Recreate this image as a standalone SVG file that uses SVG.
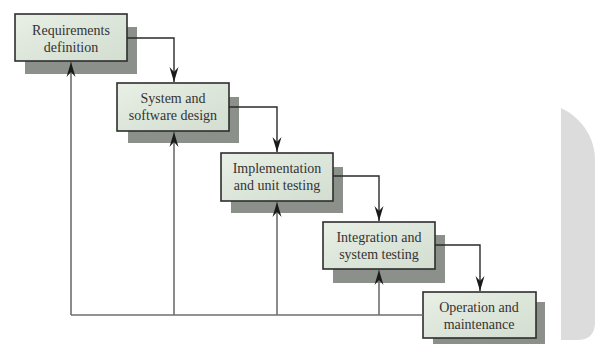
<svg xmlns="http://www.w3.org/2000/svg" width="604" height="344" viewBox="0 0 604 344">
<defs>
<linearGradient id="boxfill" x1="0" y1="0" x2="1" y2="1">
<stop offset="0" stop-color="#e9efe6"/>
<stop offset="0.5" stop-color="#dde6da"/>
<stop offset="1" stop-color="#d3ddd0"/>
</linearGradient>
<marker id="arr" markerUnits="userSpaceOnUse" markerWidth="16" markerHeight="12" viewBox="-15 -6 16 12" refX="0" refY="0" orient="auto">
<path d="M0,0 L-15,-4.5 L-10,0 L-15,4.5 Z" fill="#1a1a1a"/>
</marker>
</defs>
<style>
.shadow{fill:#8b918a}
.box{fill:url(#boxfill);stroke:#2e2e2e;stroke-width:1.6}
.lbl{font-family:'Liberation Serif','Times New Roman',Times,serif;font-size:14px;fill:#333;text-anchor:middle}
.flow{fill:none;stroke:#2a2a2a;stroke-width:1.4}
.back{fill:none;stroke:#6e6e6e;stroke-width:1.6}
</style>
<rect width="604" height="344" fill="#ffffff"/>
<path d="M561,108 C584,119 595,140 595,160 L595,322 Q595,340 577,340 L561,340 Z" fill="#dcdcdc"/>
<g id="req">
<rect class="shadow" x="25" y="27" width="112" height="47"/>
<rect class="box" x="15" y="14" width="112" height="47"/>
<text class="lbl" x="71" y="35" font-family="Liberation Serif, serif">Requirements</text>
<text class="lbl" x="71" y="52" font-family="Liberation Serif, serif">definition</text>
</g>
<g id="design">
<rect class="shadow" x="128" y="97" width="111" height="46"/>
<rect class="box" x="117" y="83" width="112" height="48"/>
<text class="lbl" x="173" y="103" font-family="Liberation Serif, serif">System and</text>
<text class="lbl" x="173" y="120" font-family="Liberation Serif, serif">software design</text>
</g>
<g id="impl">
<rect class="shadow" x="231" y="167" width="112" height="46"/>
<rect class="box" x="221" y="153" width="112" height="48"/>
<text class="lbl" x="277" y="173" font-family="Liberation Serif, serif">Implementation</text>
<text class="lbl" x="277" y="190" font-family="Liberation Serif, serif">and unit testing</text>
</g>
<g id="integ">
<rect class="shadow" x="333" y="235" width="112" height="48"/>
<rect class="box" x="323" y="222" width="112" height="47"/>
<text class="lbl" x="379" y="242" font-family="Liberation Serif, serif">Integration and</text>
<text class="lbl" x="379" y="259" font-family="Liberation Serif, serif">system testing</text>
</g>
<g id="ops">
<rect class="shadow" x="433" y="302" width="112" height="48"/>
<rect class="box" x="423" y="292" width="113" height="46"/>
<text class="lbl" x="479" y="312" font-family="Liberation Serif, serif">Operation and</text>
<text class="lbl" x="479" y="329" font-family="Liberation Serif, serif">maintenance</text>
</g>
<g id="connectors">
<path class="flow" d="M127,38 H174 V82" marker-end="url(#arr)"/>
<path class="flow" d="M229,107 H277 V152" marker-end="url(#arr)"/>
<path class="flow" d="M333,176 H379 V221" marker-end="url(#arr)"/>
<path class="flow" d="M435,245 H480 V291" marker-end="url(#arr)"/>
<path class="back" d="M423,315 H71"/>
<path class="back" d="M71,315 V62" marker-end="url(#arr)"/>
<path class="back" d="M174,315 V132" marker-end="url(#arr)"/>
<path class="back" d="M277,315 V202" marker-end="url(#arr)"/>
<path class="back" d="M379,315 V270" marker-end="url(#arr)"/>
</g>
</svg>
